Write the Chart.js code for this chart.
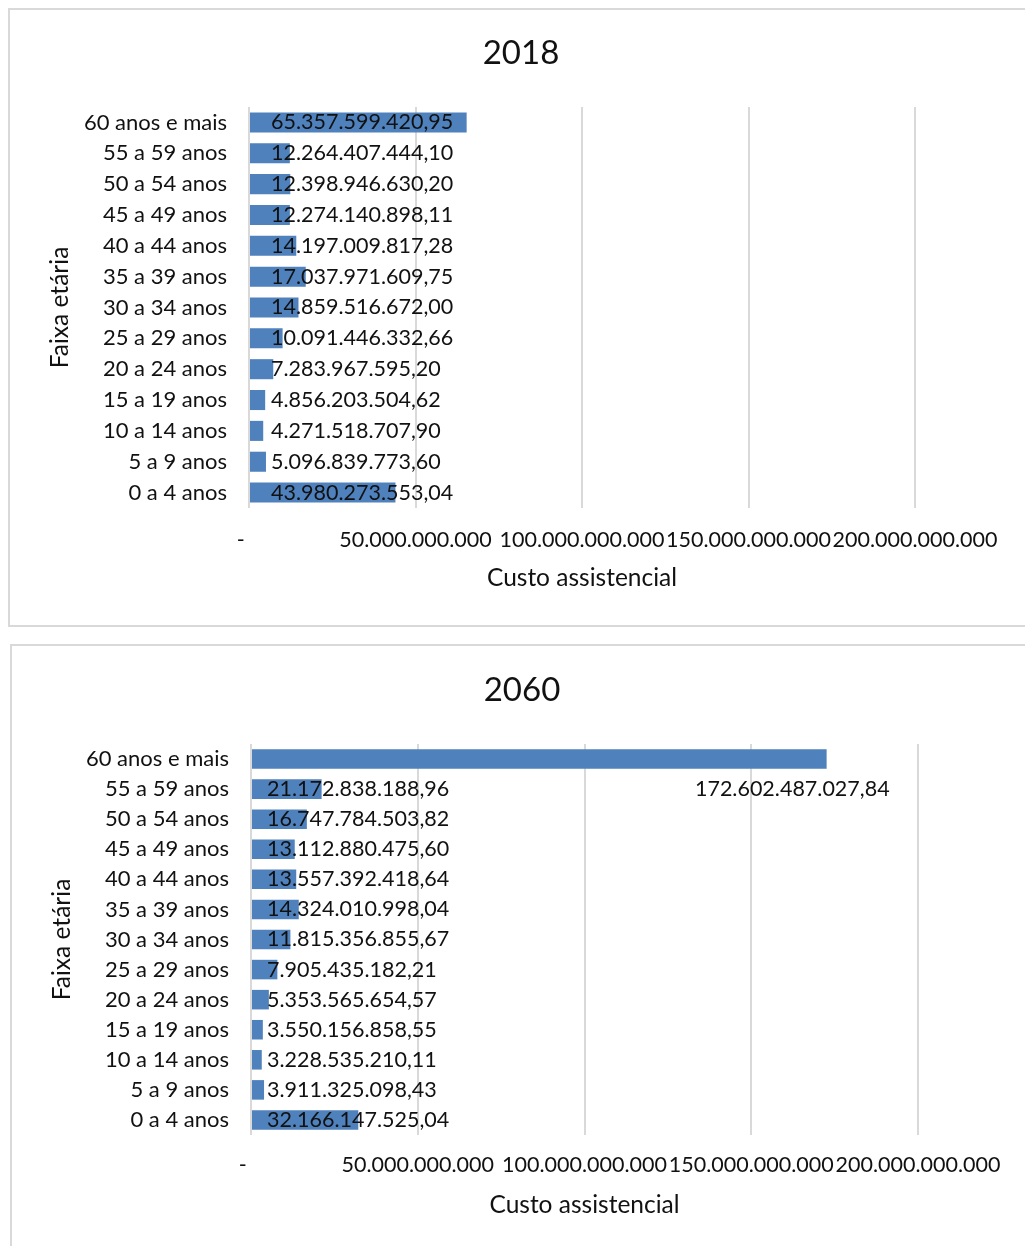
<!DOCTYPE html>
<html>
<head>
<meta charset="utf-8">
<script src="https://cdn.jsdelivr.net/npm/chart.js@4.4.1/dist/chart.umd.min.js"></script>
<style>
	html, body {margin:0; padding:0; background:#fff; overflow:hidden;}
	.box {position:absolute; border:2px solid #d9d9d9; background:#fff;}
	#box1 {left:8px; top:8px; width:1040px; height:615px;}
	#box2 {left:10px; top:644px; width:1040px; height:620px;}
	canvas {position:absolute; left:0; top:0;}
</style>
</head>
<body>
<div class="box" id="box1"><canvas id="chart2018" width="1015" height="615"></canvas></div>
<div class="box" id="box2"><canvas id="chart2060" width="1013" height="600"></canvas></div>

<script>
// faixas etárias, da mais nova para a mais velha (eixo invertido: 0 a 4 fica embaixo)
const faixas = [
	"0 a 4 anos", "5 a 9 anos", "10 a 14 anos", "15 a 19 anos", "20 a 24 anos",
	"25 a 29 anos", "30 a 34 anos", "35 a 39 anos", "40 a 44 anos", "45 a 49 anos",
	"50 a 54 anos", "55 a 59 anos", "60 anos e mais"
]

const custo2018 = [
	43980273553.04, 5096839773.60, 4271518707.90, 4856203504.62, 7283967595.20,
	10091446332.66, 14859516672.00, 17037971609.75, 14197009817.28, 12274140898.11,
	12398946630.20, 12264407444.10, 65357599420.95
]

const custo2060 = [
	32166147525.04, 3911325098.43, 3228535210.11, 3550156858.55, 5353565654.57,
	7905435182.21, 11815356855.67, 14324010998.04, 13557392418.64, 13112880475.60,
	16747784503.82, 21172838188.96, 172602487027.84
]

const eixoMin = 0
const eixoMax = 200000000000
const eixoPasso = 50000000000

const FONT = 'Lato, "Open Sans", sans-serif'
const TEXT = '#111111'
const BLUE = '#4F81BD'

function fmtBR(v, dec) {
	const fixed = v.toFixed(dec)
	let [int, frac] = fixed.split('.')
	int = int.replace(/\B(?=(\d{3})+(?!\d))/g, '.')
	return frac ? int + ',' + frac : int
}

// rótulos de dados (posição "base interna" como no Excel)
const barLabels = {
	id: 'barLabels',
	afterDatasetsDraw(chart, args, opts) {
		const ctx = chart.ctx
		const meta = chart.getDatasetMeta(0)
		const x0 = chart.scales.x.getPixelForValue(0)
		const data = chart.data.datasets[0].data
		ctx.save()
		ctx.font = `${opts.size}px ${FONT}`
		ctx.fillStyle = TEXT
		ctx.textBaseline = 'middle'
		meta.data.forEach((bar, i) => {
			const text = fmtBR(data[i], 2)
			if (opts.moved && opts.moved.index === i) {
				ctx.textAlign = 'right'
				ctx.fillText(text, bar.x + opts.moved.dx, bar.y + opts.moved.dy)
			} else {
				ctx.textAlign = 'left'
				ctx.fillText(text, x0 + opts.offset, bar.y)
			}
		})
		ctx.restore()
	}
}

function makeChart(id, title, values, lay) {
	const ctx = document.getElementById(id).getContext('2d')
	return new Chart(ctx, {
		type: 'bar',
		data: {
			labels: faixas,
			datasets: [{
				data: values,
				backgroundColor: BLUE,
				borderWidth: 0,
				categoryPercentage: 1,
				barPercentage: 0.65,
			}],
		},
		plugins: [barLabels],
		options: {
			indexAxis: 'y',
			responsive: false,
			animation: false,
			devicePixelRatio: 1,
			layout: {padding: {left: 7, right: 0, top: 0, bottom: 0}},
			plugins: {
				legend: {display: false},
				tooltip: {enabled: false},
				title: {
					display: true,
					text: title,
					color: TEXT,
					font: {family: FONT, size: 33, weight: 'normal'},
					padding: {top: lay.titleTop, bottom: lay.titleBottom},
				},
				barLabels: {size: 21.5, offset: lay.labelOffset, moved: lay.moved},
			},
			scales: {
				x: {
					min: eixoMin,
					max: eixoMax,
					ticks: {
						stepSize: eixoPasso,
						color: TEXT,
						font: {family: FONT, size: 21.5},
						padding: lay.tickPad,
						maxRotation: 0,
						autoSkip: false,
						// formato contábil: zero vira traço
						callback: (v) => v === 0 ? '-   ' : fmtBR(v, 0),
					},
					grid: {color: '#d9d9d9', lineWidth: 2, drawTicks: false},
					border: {display: false},
					title: {
						display: true,
						text: 'Custo assistencial',
						color: TEXT,
						font: {family: FONT, size: 24.5},
						padding: {top: 0, bottom: lay.xTitleBottom},
					},
					afterFit: (scale) => { scale.height = lay.xHeight },
				},
				y: {
					reverse: true,
					ticks: {
						color: TEXT,
						font: {family: FONT, size: 22},
						padding: 22,
					},
					grid: {display: false, drawTicks: false},
					border: {display: false},
					title: {
						display: true,
						text: 'Faixa etária',
						color: TEXT,
						font: {family: FONT, size: 24.5},
						padding: {top: 28, bottom: 0},
					},
					afterFit: (scale) => { scale.width = 232 },
				},
				// eixo vazio à direita só para reservar a margem do Excel
				margem: {
					type: 'linear',
					position: 'right',
					display: true,
					ticks: {display: false},
					grid: {display: false, drawTicks: false},
					border: {display: false},
					afterFit: (scale) => { scale.width = lay.right },
				},
			},
		},
	})
}

makeChart('chart2018', '2018', custo2018, {
	right: 110, titleTop: 24, titleBottom: 33.4, xHeight: 117, tickPad: 19, xTitleBottom: 32,
	labelOffset: 22, moved: null,
})

makeChart('chart2060', '2060', custo2060, {
	right: 107, titleTop: 24.2, titleBottom: 34.2, xHeight: 111, tickPad: 17, xTitleBottom: 26,
	labelOffset: 16, moved: {index: 12, dx: 63, dy: 30},
})
</script>
</body>
</html>
